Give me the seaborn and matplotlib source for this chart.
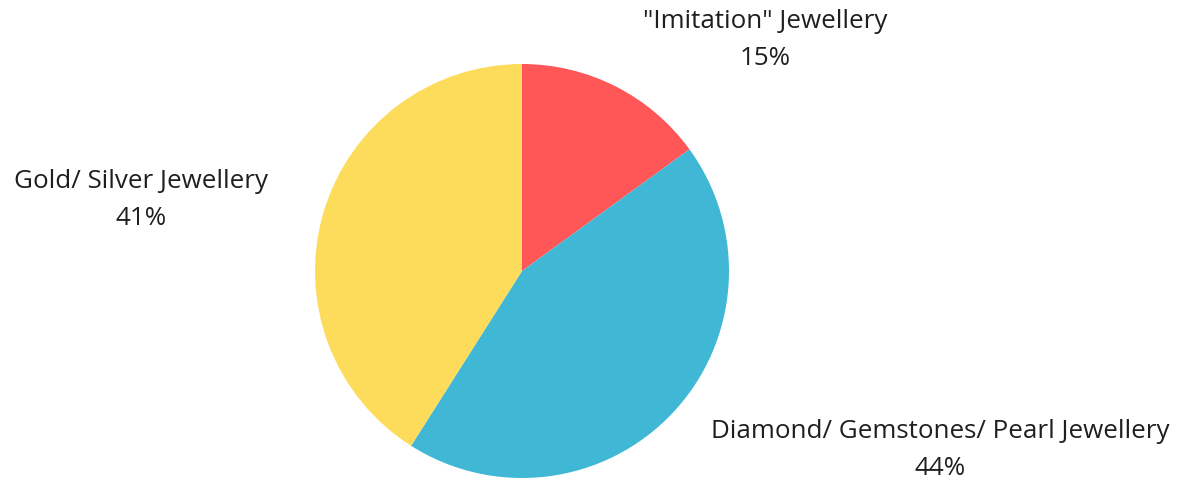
import matplotlib
matplotlib.use("Agg")
import matplotlib.pyplot as plt
import seaborn as sns

categories = ['"Imitation" Jewellery', 'Diamond/ Gemstones/ Pearl Jewellery', 'Gold/ Silver Jewellery']
shares = [15, 44, 41]
colors = ["#FF5757", "#41B7D6", "#FDDC5C"]
label_pos = [(765, 40), (940, 450), (141, 200)]  # pixel centers (x, y from top)

sns.set_theme(style="white")
plt.rcParams['font.family'] = ['Open Sans', 'DejaVu Sans']

W, H = 1179, 480
fig = plt.figure(figsize=(W / 100, H / 100), dpi=100)
cx, cy, r = 522, 271, 207
ax = fig.add_axes([(cx - r) / W, (H - cy - r) / H, 2 * r / W, 2 * r / H])
ax.pie(shares, colors=sns.color_palette(colors), startangle=90, counterclock=False,
       wedgeprops=dict(linewidth=0))
ax.set_xlim(-1, 1)
ax.set_ylim(-1, 1)
ax.set_aspect('equal')
ax.axis('off')

for cat, val, (px, py) in zip(categories, shares, label_pos):
    fig.text(px / W, 1 - py / H, f"{cat}\n{val}%", ha='center', va='center',
             fontsize=18.7, color='#1f1f1f', linespacing=1.62)

fig.savefig("out.png", dpi=100, facecolor='white')
